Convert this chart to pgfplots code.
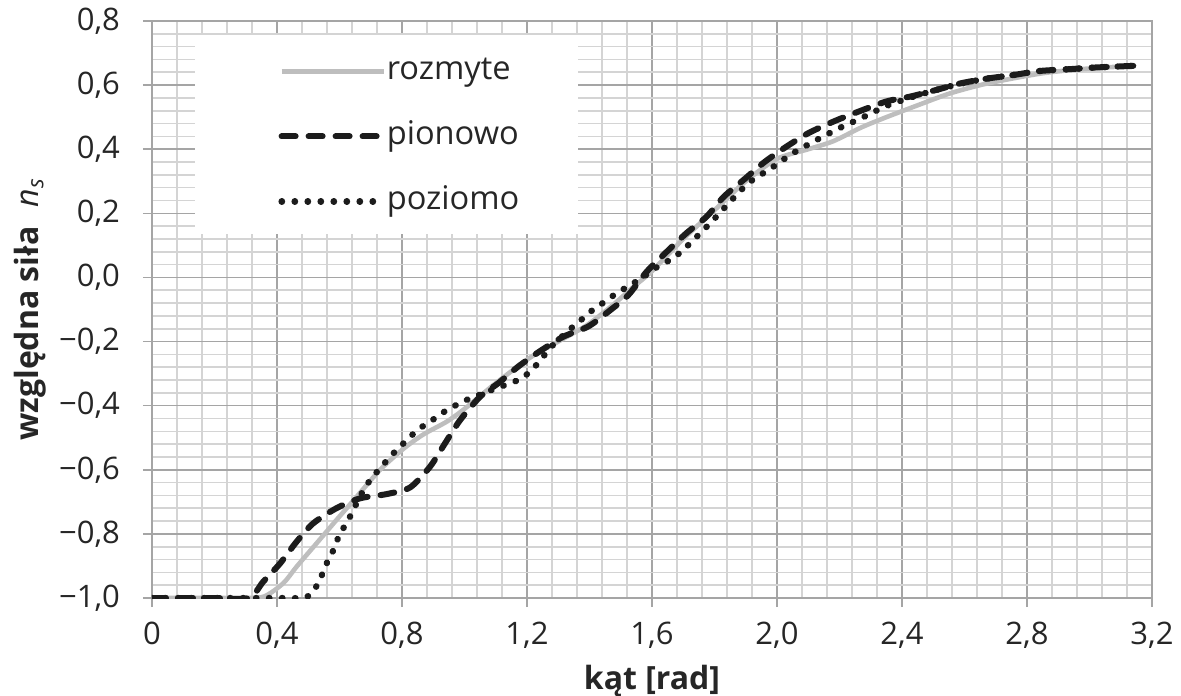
\documentclass[border=0pt]{standalone}
\usepackage{fontspec}
\setmainfont{Open Sans}
\usepackage{pgfplots}
\pgfplotsset{compat=1.18}
\definecolor{fuzzy}{RGB}{190,190,190}
\definecolor{majg}{RGB}{165,165,165}
\definecolor{ming}{RGB}{212,212,212}
\definecolor{ink}{RGB}{28,28,28}
\begin{document}
\begin{tikzpicture}
\begin{axis}[
  scale only axis, width=500pt, height=288.5pt,
  xmin=0, xmax=3.2, ymin=-1, ymax=0.8,
  xtick={0,0.4,0.8,1.2,1.6,2.0,2.4,2.8,3.2},
  xticklabels={0,{0,4},{0,8},{1,2},{1,6},{2,0},{2,4},{2,8},{3,2}},
  ytick={-1,-0.8,-0.6,-0.4,-0.2,0,0.2,0.4,0.6,0.8},
  yticklabels={{−1,0},{−0,8},{−0,6},{−0,4},{−0,2},{0,0},{0,2},{0,4},{0,6},{0,8}},
  minor x tick num=4, minor y tick num=4,
  grid=both,
  major grid style={draw=majg, line width=0.8pt},
  minor grid style={draw=ming, line width=0.8pt},
  axis line style={draw=majg, line width=0.8pt},
  tick align=outside, xtick pos=lower, ytick pos=left,
  major tick length=4.5pt, minor tick length=0pt,
  tick style={draw=majg, line width=0.8pt},
  ticklabel style={font=\fontsize{15.5}{18}\selectfont, text=black!85},
  yticklabel style={xshift=-8pt},
  xticklabel style={yshift=-4pt},
  xlabel={\bfseries kąt [rad]},
  ylabel={{\bfseries względna siła}\hspace{0.6em}\textit{n}\textsubscript{\textit{s}}},
  label style={font=\fontsize{16}{19}\selectfont, text=black!85},
  xlabel style={at={(axis description cs:0.5,-0.145)}, anchor=center},
  ylabel style={at={(axis description cs:-0.122,0.5)}, anchor=center},
  legend style={at={(axis description cs:0.126,0.941)}, anchor=north west,
    draw=none, fill=none, inner sep=0pt, row sep=16.5pt,
    font=\fontsize{16.3}{19}\selectfont, text=black!85,
    nodes={inner sep=0pt, text height=12pt, text depth=4pt},
    /tikz/every even column/.append style={column sep=3pt}},
  legend cell align=left,
  legend image code/.code={\draw[#1] (0pt,0pt) -- (51pt,0pt);},
]
\fill[white] (axis cs:0.1376,0.136) rectangle (axis cs:1.363,0.757);

\addplot[draw=fuzzy, line width=2.3pt, smooth, tension=0.45] coordinates {
(0,-1) (0.1,-1) (0.2,-1) (0.3,-1) (0.36,-0.995) (0.42,-0.954) (0.463,-0.902)
(0.527,-0.829) (0.59,-0.757) (0.655,-0.684) (0.73,-0.60) (0.804,-0.535)
(0.868,-0.49) (0.943,-0.45) (1.0,-0.41) (1.1,-0.33) (1.21,-0.25) (1.3,-0.2)
(1.39,-0.15) (1.47,-0.09) (1.54,-0.03) (1.6,0.02) (1.7,0.12) (1.8,0.21)
(1.9,0.30) (2.0,0.37) (2.1,0.40) (2.18,0.425) (2.27,0.468) (2.35,0.50)
(2.45,0.537) (2.55,0.573) (2.65,0.60) (2.75,0.62) (2.85,0.637)
(2.95,0.648) (3.05,0.655) (3.14,0.66)
};
\addlegendentry{rozmyte}

\addplot[draw=ink, line width=3pt, dash pattern=on 7pt off 6.5pt, line cap=round, smooth, tension=0.45] coordinates {
(0,-1) (0.1,-1) (0.2,-1) (0.31,-1) (0.356,-0.949) (0.41,-0.892) (0.463,-0.824)
(0.516,-0.767) (0.59,-0.72) (0.666,-0.689) (0.75,-0.676) (0.826,-0.655)
(0.89,-0.59) (0.938,-0.517) (0.986,-0.445) (1.05,-0.372) (1.108,-0.33)
(1.172,-0.278) (1.24,-0.231) (1.316,-0.185) (1.396,-0.153) (1.46,-0.107)
(1.524,-0.055) (1.583,0.018) (1.647,0.08) (1.71,0.138) (1.775,0.19)
(1.83,0.252) (1.90,0.31) (1.96,0.36) (2.03,0.408) (2.10,0.45) (2.18,0.486)
(2.26,0.517) (2.35,0.549) (2.43,0.565) (2.51,0.585) (2.59,0.606) (2.67,0.62)
(2.76,0.632) (2.84,0.644) (2.94,0.65) (3.02,0.655) (3.14,0.66)
};
\addlegendentry{pionowo}

\addplot[draw=ink, line width=3.2pt, dash pattern=on 0.2pt off 6.3pt, line cap=round, smooth, tension=0.45] coordinates {
(0,-1) (0.2,-1) (0.4,-1) (0.48,-1) (0.506,-0.99) (0.532,-0.954) (0.548,-0.918)
(0.564,-0.881) (0.586,-0.84) (0.60,-0.80) (0.623,-0.767) (0.644,-0.725)
(0.68,-0.658) (0.708,-0.62) (0.735,-0.59) (0.762,-0.559) (0.794,-0.528)
(0.826,-0.497) (0.858,-0.47) (0.89,-0.45) (0.927,-0.424) (0.964,-0.403)
(1.007,-0.382) (1.09,-0.35) (1.167,-0.322) (1.2,-0.302) (1.23,-0.273)
(1.284,-0.21) (1.348,-0.153) (1.38,-0.127) (1.412,-0.10) (1.45,-0.075)
(1.487,-0.049) (1.52,-0.03) (1.57,0.0) (1.62,0.035) (1.66,0.056) (1.70,0.086)
(1.786,0.169) (1.844,0.23) (1.908,0.294) (1.98,0.34) (2.05,0.387)
(2.127,0.429) (2.20,0.466) (2.276,0.50) (2.35,0.535) (2.43,0.562)
(2.51,0.585) (2.59,0.605) (2.67,0.62) (2.76,0.632) (2.84,0.644) (2.94,0.65)
(3.02,0.655) (3.14,0.66)
};
\addlegendentry{poziomo}
\end{axis}
\pgfresetboundingbox
\path ([xshift=-76pt,yshift=-48.5pt]current axis.south west) rectangle ([xshift=14.5pt,yshift=10.5pt]current axis.north east);
\end{tikzpicture}
\end{document}
